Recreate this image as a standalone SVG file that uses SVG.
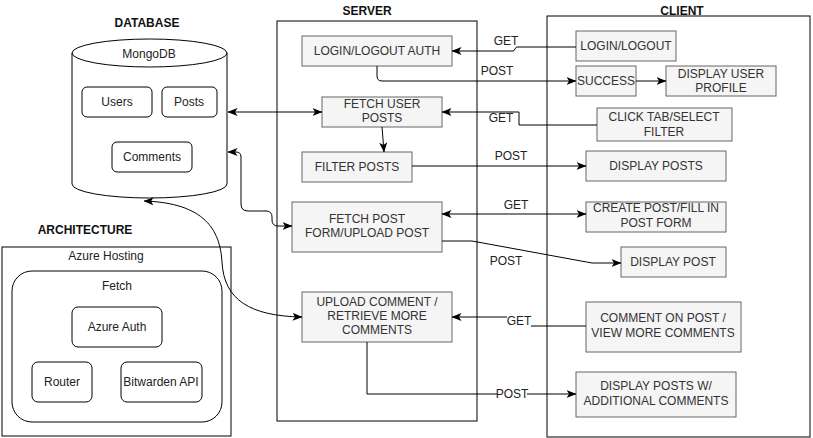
<svg xmlns="http://www.w3.org/2000/svg" width="813" height="438" viewBox="0 0 813 438">
<defs>
<marker id="arr" viewBox="0 0 10 8" refX="9.5" refY="4" markerWidth="10" markerHeight="8" markerUnits="userSpaceOnUse" orient="auto-start-reverse">
<path d="M0,0 L10,4 L0,8 L2.5,4 Z" fill="#000"/>
</marker>
</defs>
<style>
text{font-family:"Liberation Sans",Arial,Helvetica,sans-serif;font-size:12px;text-anchor:middle}
.h{font-weight:bold;fill:#111}
.t{fill:#333}
.d{fill:#222}
.lbl{fill:#222}
.box{fill:#f5f5f5;stroke:#666;stroke-width:1}
.cont{fill:#fff;stroke:#000;stroke-width:1}
.rb{fill:#fff;stroke:#000;stroke-width:1}
.c{fill:none;stroke:#000;stroke-width:1}
.ae{marker-end:url(#arr)}
.ab{marker-start:url(#arr);marker-end:url(#arr)}
</style>
<rect width="813" height="438" fill="#fff"/>

<!-- containers -->
<g id="server">
<rect class="cont" x="277" y="21" width="200" height="400"/>
<text class="h" x="367" y="15">SERVER</text>
</g>
<g id="client">
<rect class="cont" x="547" y="16" width="263" height="421"/>
<text class="h" x="682" y="15">CLIENT</text>
</g>

<g id="database">
<text class="h" x="147" y="27">DATABASE</text>
<path class="rb" d="M72,53 A77.5,14 0 0 1 227,53 V184 A77.5,14 0 0 1 72,184 Z"/>
<path class="c" d="M72,53 A77.5,14 0 0 0 227,53"/>
<text class="d" x="149" y="58">MongoDB</text>
</g>
<g id="users"><rect class="rb" x="82" y="87" width="70" height="30" rx="5"/><text class="d" x="117" y="106">Users</text></g>
<g id="posts"><rect class="rb" x="162" y="87" width="55" height="30" rx="5"/><text class="d" x="189" y="106">Posts</text></g>
<g id="comments"><rect class="rb" x="112" y="142" width="80" height="30" rx="5"/><text class="d" x="152" y="161">Comments</text></g>

<g id="architecture">
<text class="h" x="85" y="234">ARCHITECTURE</text>
<rect class="cont" x="2" y="247" width="229" height="189"/>
<text class="d" x="106" y="260">Azure Hosting</text>
</g>
<g id="fetch"><rect class="rb" x="12" y="271" width="210" height="151" rx="20"/><text class="d" x="117" y="290">Fetch</text></g>
<g id="azureauth"><rect class="rb" x="72" y="307" width="90" height="40" rx="6"/><text class="d" x="117" y="331">Azure Auth</text></g>
<g id="router"><rect class="rb" x="32" y="362" width="60" height="40" rx="6"/><text class="d" x="62" y="386">Router</text></g>
<g id="bitwarden"><rect class="rb" x="121" y="362" width="81" height="40" rx="6"/><text class="d" x="161" y="386">Bitwarden API</text></g>

<!-- server nodes -->
<g id="s-login"><rect class="box" x="302" y="36" width="150" height="30"/><text class="t" x="377" y="55">LOGIN/LOGOUT AUTH</text></g>
<g id="s-fetchuser"><rect class="box" x="322" y="97" width="120" height="30"/><text class="t" x="382" y="108">FETCH USER</text><text class="t" x="382" y="122">POSTS</text></g>
<g id="s-filter"><rect class="box" x="302" y="152" width="110" height="30"/><text class="t" x="357" y="171">FILTER POSTS</text></g>
<g id="s-fetchpost"><rect class="box" x="292" y="202" width="150" height="50"/><text class="t" x="367" y="223">FETCH POST</text><text class="t" x="367" y="237">FORM/UPLOAD POST</text></g>
<g id="s-upload"><rect class="box" x="302" y="292" width="150" height="50"/><text class="t" x="377" y="306">UPLOAD COMMENT /</text><text class="t" x="377" y="320">RETRIEVE MORE</text><text class="t" x="377" y="334">COMMENTS</text></g>

<!-- client nodes -->
<g id="c-login"><rect class="box" x="576" y="31" width="100" height="30"/><text class="t" x="626" y="50">LOGIN/LOGOUT</text></g>
<g id="c-success"><rect class="box" x="576" y="66" width="60" height="30"/><text class="t" x="606" y="85">SUCCESS</text></g>
<g id="c-profile"><rect class="box" x="666" y="66" width="110" height="30"/><text class="t" x="721" y="78">DISPLAY USER</text><text class="t" x="721" y="92">PROFILE</text></g>
<g id="c-click"><rect class="box" x="597" y="108" width="135" height="33"/><text class="t" x="664" y="121">CLICK TAB/SELECT</text><text class="t" x="664" y="136">FILTER</text></g>
<g id="c-displayposts"><rect class="box" x="586" y="151" width="140" height="30"/><text class="t" x="656" y="170">DISPLAY POSTS</text></g>
<g id="c-create"><rect class="box" x="586" y="202" width="140" height="30"/><text class="t" x="656" y="212">CREATE POST/FILL IN</text><text class="t" x="656" y="227">POST FORM</text></g>
<g id="c-displaypost"><rect class="box" x="621" y="247" width="105" height="30"/><text class="t" x="673" y="266">DISPLAY POST</text></g>
<g id="c-comment"><rect class="box" x="586" y="302" width="155" height="50"/><text class="t" x="663" y="322">COMMENT ON POST /</text><text class="t" x="663" y="337">VIEW MORE COMMENTS</text></g>
<g id="c-additional"><rect class="box" x="576" y="372" width="160" height="45"/><text class="t" x="656" y="390">DISPLAY POSTS W/</text><text class="t" x="656" y="405">ADDITIONAL COMMENTS</text></g>

<!-- connectors -->
<g id="connectors">
<path class="c ae" d="M576,47 H517 C515,47 515,51 513,51 H452"/>
<path class="c ae" d="M377,66 V76 Q377,81 382,81 H576"/>
<path class="c ae" d="M636,81 H666"/>
<path class="c ab" d="M228,112 H322"/>
<path class="c ae" d="M597,125 H519 V112 H442"/>
<path class="c ae" d="M382,127 L384,152"/>
<path class="c ae" d="M412,166 H586"/>
<path class="c ab" d="M228,152 H236 Q241,152 241,157 V204 Q241,211 248,211 H266 Q272,211 272,217 V220 Q272,226 278,226 H292"/>
<path class="c ab" d="M442,214 H586"/>
<path class="c ae" d="M442,241 H472 L592,263 H621"/>
<path class="c ab" d="M144,201 C205,203 220,230 222,262 C224,300 250,316 302,317"/>
<path class="c ae" d="M586,326 H530 V317 H452"/>
<path class="c ae" d="M367,342 V394 H576"/>
<text class="lbl" x="506" y="45">GET</text>
<text class="lbl" x="497" y="75">POST</text>
<text class="lbl" x="501" y="122">GET</text>
<text class="lbl" x="511" y="160">POST</text>
<text class="lbl" x="516" y="209">GET</text>
<text class="lbl" x="506" y="265">POST</text>
<rect x="507" y="314" width="24" height="14" fill="#fff"/>
<text class="lbl" x="519" y="325">GET</text>
<rect x="497" y="387" width="30" height="14" fill="#fff"/>
<text class="lbl" x="512" y="398">POST</text>
</g>
</svg>
